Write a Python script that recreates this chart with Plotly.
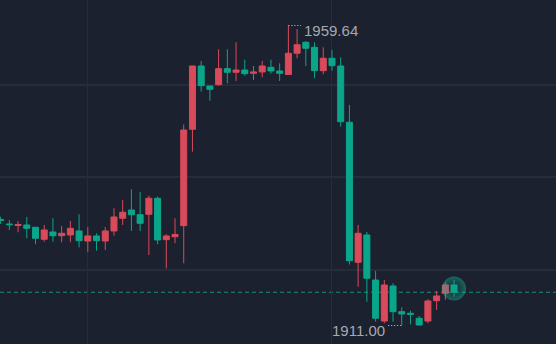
import plotly.graph_objects as go

# candle index (time slot)
idx = list(range(53))
opens = [1928.19, 1927.46, 1927.22, 1927.30, 1926.93, 1924.98, 1926.16, 1925.56, 1925.68, 1926.33,
         1924.70, 1925.52, 1924.70, 1926.33, 1928.39, 1929.73, 1928.97, 1929.03, 1931.63, 1924.92,
         1925.39, 1927.19, 1942.82, 1953.08, 1949.84, 1950.05, 1952.64, 1952.06, 1952.43, 1951.90,
         1952.11, 1952.87, 1952.27, 1951.70, 1955.14, 1956.92, 1956.11, 1952.32, 1954.33, 1953.08,
         1943.95, 1921.25, 1925.68, 1918.38, 1911.73, 1917.41, 1913.24, 1912.98, 1912.17, 1911.73,
         1915.02, 1916.22, 1917.57]
highs = [1928.64, 1928.11, 1927.95, 1928.60, 1926.95, 1927.30, 1928.39, 1927.14, 1927.95, 1929.03,
         1926.97, 1925.95, 1926.97, 1930.01, 1931.35, 1933.09, 1932.65, 1932.05, 1931.89, 1925.79,
         1928.39, 1943.60, 1953.10, 1953.89, 1949.85, 1955.79, 1955.79, 1956.92, 1954.10, 1953.08,
         1953.89, 1954.10, 1953.52, 1959.64, 1959.08, 1957.13, 1956.92, 1956.11, 1955.68, 1954.49,
         1946.76, 1927.30, 1926.16, 1919.84, 1918.38, 1917.85, 1913.95, 1913.40, 1912.54, 1915.25,
         1916.60, 1918.01, 1918.38]
lows = [1927.46, 1926.49, 1926.12, 1925.14, 1924.17, 1924.59, 1924.59, 1924.49, 1924.49, 1923.68,
        1922.92, 1923.13, 1923.25, 1925.56, 1927.30, 1926.33, 1926.33, 1922.43, 1924.17, 1920.25,
        1924.33, 1921.09, 1939.18, 1948.91, 1947.45, 1949.89, 1950.28, 1950.65, 1951.51, 1950.81,
        1951.25, 1951.83, 1950.65, 1951.62, 1954.33, 1953.08, 1951.09, 1951.74, 1952.32, 1943.24,
        1920.89, 1917.29, 1914.86, 1911.62, 1911.36, 1911.62, 1911.00, 1911.20, 1911.05, 1911.36,
        1913.52, 1915.14, 1915.67]
closes = [1928.03, 1927.35, 1927.38, 1926.76, 1925.14, 1926.49, 1925.56, 1925.95, 1926.76, 1924.75,
          1925.52, 1924.75, 1926.33, 1928.60, 1929.36, 1928.97, 1927.57, 1931.63, 1924.87, 1925.52,
          1925.76, 1942.70, 1953.08, 1949.89, 1949.30, 1952.64, 1952.06, 1952.43, 1951.83, 1952.11,
          1953.08, 1952.27, 1951.90, 1955.14, 1956.53, 1955.95, 1952.32, 1954.33, 1953.13, 1944.05,
          1921.51, 1925.95, 1918.66, 1912.17, 1917.57, 1913.24, 1912.87, 1912.82, 1911.08, 1914.98,
          1915.79, 1917.57, 1916.39]

hi_label = "1959.64"
lo_label = "1911.00"
hi_idx, lo_idx = 33, 46
hi_val, lo_val = 1959.64, 1911.00
last_price = 1916.39
grid_x = [9.91, 37.97]
grid_y = [1920, 1935, 1950]

UP = "#d94a5a"
DOWN = "#0aa68a"
BG = "#1b212f"
GRID = "#252c3a"
LABEL_FONT = dict(family="Liberation Sans, Arial, sans-serif", size=15, color="#a5a9b2")

fig = go.Figure()
fig.add_trace(go.Candlestick(
    x=idx, open=opens, high=highs, low=lows, close=closes,
    increasing=dict(line=dict(color=UP, width=1), fillcolor=UP),
    decreasing=dict(line=dict(color=DOWN, width=1), fillcolor=DOWN),
    whiskerwidth=0, hoverinfo="skip", showlegend=False,
))

# current price dashed line
fig.add_shape(type="line", xref="paper", x0=0, x1=1, yref="y", y0=last_price, y1=last_price,
              line=dict(color="#12917a", width=1, dash="4px,3px"), layer="below")

# glow on last candle
last_i = idx[-1]
glow_y = (opens[-1] + closes[-1]) / 2
fig.add_trace(go.Scatter(x=[last_i], y=[glow_y], mode="markers", hoverinfo="skip", showlegend=False,
                         marker=dict(size=24, color="rgba(20,190,160,0.45)", line=dict(width=0),
                                     gradient=dict(type="radial", color="rgba(10,166,138,0)"))))

# high / low markers
fig.add_shape(type="line", x0=hi_idx, x1=hi_idx + 1.45, y0=hi_val, y1=hi_val,
              line=dict(color="#c8ccd4", width=1, dash="1px,2px"))
fig.add_annotation(x=hi_idx + 1.6, y=hi_val, text=hi_label, showarrow=False, xanchor="left",
                   yanchor="middle", yshift=-5, font=LABEL_FONT)
fig.add_shape(type="line", x0=lo_idx - 1.55, x1=lo_idx, y0=lo_val, y1=lo_val,
              line=dict(color="#c8ccd4", width=1, dash="1px,2px"))
fig.add_annotation(x=lo_idx - 1.7, y=lo_val, text=lo_label, showarrow=False, xanchor="right",
                   yanchor="middle", yshift=-5, font=LABEL_FONT)

fig.update_layout(
    width=556, height=344, margin=dict(l=0, r=0, t=0, b=0),
    paper_bgcolor=BG, plot_bgcolor=BG,
    boxgap=0.31, boxgroupgap=0,
    xaxis=dict(range=[-0.07, 63.69], rangeslider=dict(visible=False), showticklabels=False,
               tickmode="array", tickvals=grid_x, showgrid=True, gridcolor=GRID, gridwidth=1,
               zeroline=False, showline=False, ticks=""),
    yaxis=dict(range=[1908.0, 1963.78], showticklabels=False, tickmode="array", tickvals=grid_y,
               showgrid=True, gridcolor=GRID, gridwidth=2, zeroline=False, showline=False, ticks=""),
    hovermode=False,
)
fig.write_html("out.html")
